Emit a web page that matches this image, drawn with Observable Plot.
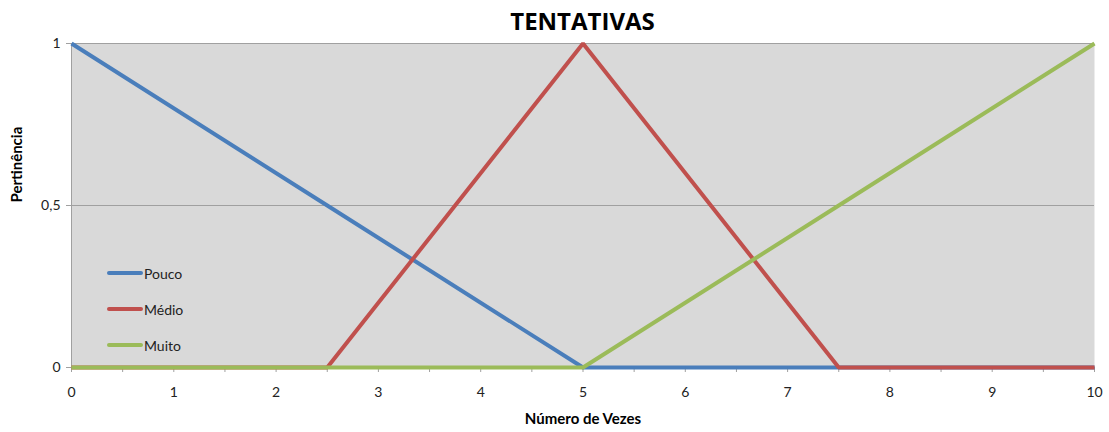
<!DOCTYPE html>
<html><head><meta charset="utf-8">
<script src="https://cdn.jsdelivr.net/npm/d3@7"></script>
<script src="https://cdn.jsdelivr.net/npm/@observablehq/plot@0.6"></script>
<style>
body{margin:0;background:#fff;font-family:Lato,"Open Sans",sans-serif;}
#wrap{position:relative;width:1109px;height:432px;}
#title{position:absolute;left:71px;width:1023px;top:4px;text-align:center;font-weight:bold;font-size:24px;color:#000;font-family:"Open Sans",Lato,sans-serif;z-index:2;}
#chart{position:absolute;left:0;top:26px;}
#legend{position:absolute;left:107px;top:255px;font-size:14px;color:#222;}
.li{display:flex;align-items:center;height:36px;}
.sw{width:36px;height:4px;border-radius:2px;margin-right:1px;}
</style></head>
<body><div id="wrap"><div id="chart"></div><div id="title">TENTATIVAS</div><div id="legend"></div></div>
<script>
const xs = [0, 2.5, 5, 7.5, 10];
const pouco = [1, 0.5, 0, 0, 0];
const medio = [0, 0, 1, 0, 0];
const muito = [0, 0, 0, 0.5, 1];
const seriesNames = ["Pouco", "Médio", "Muito"];
const colors = ["#4a7ebb", "#c0504d", "#9bbb59"];
const xTicks = [0,1,2,3,4,5,6,7,8,9,10];
const yTicks = [0, 0.5, 1];
const yTickLabels = ["0", "0,5", "1"];

const values = [pouco, medio, muito];
const data = [];
values.forEach((arr, si) => arr.forEach((v, i) => data.push({x: xs[i], y: v, s: seriesNames[si]})));

const chart = Plot.plot({
  width: 1109, height: 406,
  marginLeft: 71, marginRight: 15, marginTop: 17, marginBottom: 65,
  style: {fontFamily: "Lato, 'Open Sans', sans-serif", fontSize: "14px", color: "#222", background: "transparent"},
  x: {domain: [0, 10]},
  y: {domain: [0, 1]},
  color: {domain: seriesNames, range: colors},
  marks: [
    Plot.frame({fill: "#d9d9d9", stroke: null}),
    Plot.gridY(yTicks.slice(1), {stroke: "#a0a0a0", strokeOpacity: 1, strokeWidth: 1}),
    Plot.ruleX([0], {stroke: "#a0a0a0"}),
    Plot.ruleY([0], {stroke: "#a0a0a0"}),
    Plot.axisX(d3.range(0, 10.5, 0.5), {tickSize: 5, tickFormat: () => "", stroke: "#a0a0a0", label: null}),
    Plot.axisX(xTicks, {tickSize: 0, tickPadding: 20, fontSize: 14, label: null}),
    Plot.axisY(yTicks, {tickSize: 5, tickPadding: 6, stroke: "#a0a0a0", fontSize: 14, tickFormat: (d, i) => yTickLabels[i], label: null}),
    Plot.line(data, {x: "x", y: "y", z: "s", stroke: "s", strokeWidth: 4, strokeLinecap: "butt", strokeLinejoin: "miter"}),
    Plot.text(["Número de Vezes"], {frameAnchor: "bottom", dy: 56, fontWeight: "bold", fontSize: 15, fill: "#000"}),
    Plot.text(["Pertinência"], {frameAnchor: "left", dx: -54, dy: -3, rotate: -90, fontWeight: "bold", fontSize: 15, fill: "#000"})
  ]
});
document.getElementById("chart").appendChild(chart);

const lg = document.getElementById("legend");
seriesNames.forEach((n, i) => {
  const d = document.createElement("div"); d.className = "li";
  d.innerHTML = `<span class="sw" style="background:${colors[i]}"></span><span>${n}</span>`;
  lg.appendChild(d);
});
</script></body></html>
